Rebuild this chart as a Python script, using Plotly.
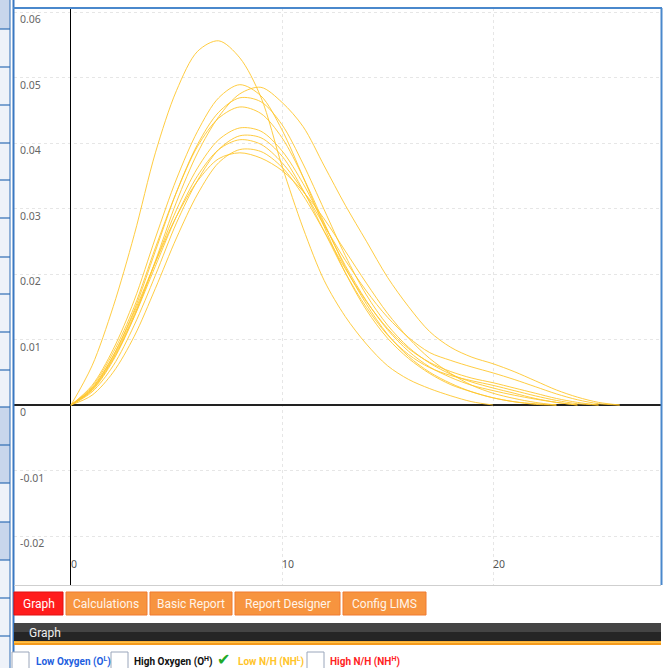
import plotly.graph_objects as go

W, H = 669, 668

# ---------------- data ----------------
x_points = list(range(0, 28))

curve_A = [0, 0.006, 0.015, 0.026, 0.0385, 0.048, 0.054, 0.0556, 0.053, 0.047, 0.0365,
           0.027, 0.019, 0.0135, 0.0093, 0.006, 0.0039, 0.0025, 0.0014, 0.0005, 0]
curve_B = [0, 0.003, 0.0085, 0.016, 0.0255, 0.0345, 0.0418, 0.0469, 0.0489, 0.0472, 0.042,
           0.0348, 0.0272, 0.0202, 0.0145, 0.0102, 0.0071, 0.0048, 0.0031, 0.002, 0.0011,
           0.0005, 0.0002, 0]
curve_C = [0, 0.0022, 0.0068, 0.0135, 0.022, 0.031, 0.0385, 0.044, 0.0475, 0.0485, 0.0462,
           0.0425, 0.0365, 0.0305, 0.025, 0.0195, 0.015, 0.0112, 0.0088, 0.0073, 0.0063,
           0.0051, 0.0037, 0.0023, 0.0012, 0.0004, 0]
curve_D = [0, 0.0025, 0.0075, 0.0145, 0.0235, 0.0325, 0.0398, 0.0447, 0.0469, 0.0463, 0.0428,
           0.0368, 0.0298, 0.0228, 0.0168, 0.0122, 0.0088, 0.0064, 0.0047, 0.0035, 0.0026,
           0.0018, 0.001, 0.0004, 0]
curve_E = [0, 0.0028, 0.008, 0.015, 0.024, 0.0325, 0.0395, 0.0438, 0.0455, 0.0445, 0.0408,
           0.0348, 0.0278, 0.021, 0.0154, 0.0108, 0.0074, 0.005, 0.0033, 0.002, 0.0011,
           0.0005, 0.0001, 0]
curve_F = [0, 0.0024, 0.0072, 0.0138, 0.0218, 0.0298, 0.0362, 0.0405, 0.0423, 0.0418, 0.0388,
           0.0338, 0.0276, 0.0213, 0.0159, 0.0115, 0.0082, 0.0058, 0.0042, 0.003, 0.0022,
           0.0015, 0.0009, 0.0004, 0]
curve_G = [0, 0.002, 0.006, 0.0122, 0.0198, 0.0278, 0.0343, 0.039, 0.0411, 0.0408, 0.038,
           0.0328, 0.0265, 0.0202, 0.0149, 0.0107, 0.0077, 0.0057, 0.0045, 0.0037, 0.003,
           0.0022, 0.0014, 0.0007, 0.0002, 0]
curve_H = [0, 0.0023, 0.007, 0.0135, 0.0212, 0.0288, 0.035, 0.039, 0.0405, 0.0398, 0.037,
           0.0327, 0.0274, 0.0221, 0.0174, 0.0134, 0.0103, 0.008, 0.0068, 0.0058, 0.0049,
           0.0039, 0.0028, 0.0017, 0.0008, 0.0002, 0]
curve_I = [0, 0.0015, 0.005, 0.0105, 0.0178, 0.0255, 0.0322, 0.037, 0.039, 0.0387, 0.0363,
           0.032, 0.0265, 0.0208, 0.0158, 0.0117, 0.0086, 0.0065, 0.0051, 0.0041, 0.0034,
           0.0026, 0.0018, 0.001, 0.0004, 0]
curve_J = [0, 0.0026, 0.0075, 0.0142, 0.0218, 0.0288, 0.0342, 0.0376, 0.0385, 0.0377, 0.0358,
           0.0326, 0.0284, 0.0235, 0.0186, 0.014, 0.0102, 0.0071, 0.0048, 0.003, 0.0018,
           0.001, 0.0004, 0]

curves = [curve_A, curve_B, curve_C, curve_D, curve_E, curve_F, curve_G, curve_H, curve_I, curve_J]

y_tick_vals = [0.06, 0.05, 0.04, 0.03, 0.02, 0.01, 0, -0.01, -0.02]
y_tick_text = ["0.06", "0.05", "0.04", "0.03", "0.02", "0.01", "0", "-0.01", "-0.02"]
x_tick_vals = [0, 10, 20]
x_tick_text = ["0", "10", "20"]

tab_labels = ["Graph", "Calculations", "Basic Report", "Report Designer", "Config LIMS"]
legend_labels = ["Low Oxygen (O<sup>L</sup>)", "High Oxygen (O<sup>H</sup>)",
                 "Low N/H (NH<sup>L</sup>)", "High N/H (NH<sup>H</sup>)"]

# ---------------- figure ----------------
fig = go.Figure()
for c in curves:
    fig.add_trace(go.Scatter(
        x=x_points[:len(c)], y=c, mode="lines",
        line=dict(color="rgba(255,198,45,0.9)", width=1, shape="spline", smoothing=0.9),
        hoverinfo="skip"))


def px(p):
    return p / W


def py(p):
    return 1 - p / H


shapes = []
annotations = []

# left sidebar
shapes.append(dict(type="rect", xref="paper", yref="paper", x0=px(0), x1=px(10), y0=py(668), y1=py(0),
                   fillcolor="#eef2f9", line=dict(width=0), layer="below"))
for a, b in [(0, 29), (407, 483), (522, 560)]:
    shapes.append(dict(type="rect", xref="paper", yref="paper", x0=px(0), x1=px(10), y0=py(b), y1=py(a),
                       fillcolor="#c8d6ec", line=dict(width=0), layer="below"))
for yy in [29, 67, 105, 143, 180, 218, 257, 294, 332, 370, 407, 445, 483, 522, 560, 598, 636]:
    shapes.append(dict(type="line", xref="paper", yref="paper", x0=px(0), x1=px(10), y0=py(yy), y1=py(yy),
                       line=dict(color="#2f6db5", width=1.2)))
shapes.append(dict(type="line", xref="paper", yref="paper", x0=px(10), x1=px(10), y0=py(0), y1=py(668),
                   line=dict(color="#2f6db5", width=1)))

# plot frame
shapes.append(dict(type="line", xref="paper", yref="paper", x0=px(13.5), x1=px(13.5), y0=py(0), y1=py(668),
                   line=dict(color="#3a78c2", width=2)))
shapes.append(dict(type="line", xref="paper", yref="paper", x0=px(13), x1=px(662), y0=py(8), y1=py(8),
                   line=dict(color="#4a88cc", width=2)))
shapes.append(dict(type="line", xref="paper", yref="paper", x0=px(661.5), x1=px(661.5), y0=py(8), y1=py(585),
                   line=dict(color="#4a88cc", width=2)))
shapes.append(dict(type="line", xref="paper", yref="paper", x0=px(14), x1=px(661), y0=py(585.5), y1=py(585.5),
                   line=dict(color="#cfcfcf", width=1)))

# tabs
tab_x = [(14, 63), (66, 147), (150, 232), (235, 340), (343, 426)]
for i, (lab, (a, b)) in enumerate(zip(tab_labels, tab_x)):
    if i == 0:
        fill, border, tc = "#ff1c1c", "#e01010", "#ffffff"
    else:
        fill, border, tc = "#f7943f", "#f07a30", "#fff4ea"
    shapes.append(dict(type="rect", xref="paper", yref="paper", x0=px(a), x1=px(b), y0=py(615), y1=py(592),
                       fillcolor=fill, line=dict(color=border, width=1)))
    annotations.append(dict(xref="paper", yref="paper", x=px((a + b) / 2), y=py(603.5), text=lab,
                            showarrow=False, xanchor="center", yanchor="middle",
                            font=dict(family="Roboto", size=12, color=tc)))

# dark header bar
shapes.append(dict(type="rect", xref="paper", yref="paper", x0=px(14), x1=px(661), y0=py(632), y1=py(623),
                   fillcolor="#444444", line=dict(width=0)))
shapes.append(dict(type="rect", xref="paper", yref="paper", x0=px(14), x1=px(661), y0=py(641), y1=py(632),
                   fillcolor="#252525", line=dict(width=0)))
shapes.append(dict(type="rect", xref="paper", yref="paper", x0=px(14), x1=px(661), y0=py(645), y1=py(641),
                   fillcolor="#f59a1c", line=dict(width=0)))
shapes.append(dict(type="rect", xref="paper", yref="paper", x0=px(14), x1=px(661), y0=py(643), y1=py(641.5),
                   fillcolor="#ffc34a", line=dict(width=0)))
annotations.append(dict(xref="paper", yref="paper", x=px(27), y=py(633), text="Graph", showarrow=False,
                        xanchor="left", yanchor="middle",
                        font=dict(family="Roboto", size=12, color="#eeeeee")))

# legend checkboxes
boxes = [(12, 29), (111, 128), (307, 324)]
for a, b in boxes:
    shapes.append(dict(type="rect", xref="paper", yref="paper", x0=px(a), x1=px(b), y0=py(669), y1=py(652),
                       fillcolor="#ffffff", line=dict(color="#9aa6bb", width=1)))
annotations.append(dict(xref="paper", yref="paper", x=px(223), y=py(659), text="✔", showarrow=False,
                        xanchor="center", yanchor="middle",
                        font=dict(family="DejaVu Sans", size=16, color="#1faa2a")))
leg_x = [34, 132, 236, 328]
leg_c = ["#1f5fe0", "#111111", "#ffc42a", "#ff2424"]
for lab, xx, cc in zip(legend_labels, leg_x, leg_c):
    annotations.append(dict(xref="paper", yref="paper", x=px(xx), y=py(661), text="<b>" + lab + "</b>",
                            showarrow=False, xanchor="left", yanchor="middle",
                            font=dict(family="Roboto", size=10, color=cc)))

fig.update_layout(
    width=W, height=H,
    margin=dict(l=0, r=0, t=0, b=0, pad=0),
    paper_bgcolor="white", plot_bgcolor="white",
    showlegend=False,
    shapes=shapes, annotations=annotations,
    xaxis=dict(domain=[14 / W, 661 / W], range=[-2.70, 27.96],
               tickmode="array", tickvals=x_tick_vals, ticktext=x_tick_text,
               showgrid=True, gridcolor="#e6e6e6", griddash="dot", gridwidth=1,
               zeroline=True, zerolinecolor="#000000", zerolinewidth=1,
               showline=False, ticks="", ticklabelposition="inside right",
               ticklabelstandoff=9,
               tickfont=dict(family="Noto Sans", size=10.5, color="#555555")),
    yaxis=dict(domain=[(H - 585) / H, (H - 8) / H], range=[-0.02748, 0.06061],
               tickmode="array", tickvals=y_tick_vals, ticktext=y_tick_text,
               showgrid=True, gridcolor="#e6e6e6", griddash="dot", gridwidth=1,
               zeroline=True, zerolinecolor="#222222", zerolinewidth=1.5,
               showline=False, ticks="", ticklabelposition="inside bottom",
               ticklabelstandoff=3,
               tickfont=dict(family="Noto Sans", size=10.5, color="#666666")),
)

fig.write_html("out.html", config={"displayModeBar": False},
               post_script="document.body.style.margin='0';document.body.style.overflow='hidden';")
